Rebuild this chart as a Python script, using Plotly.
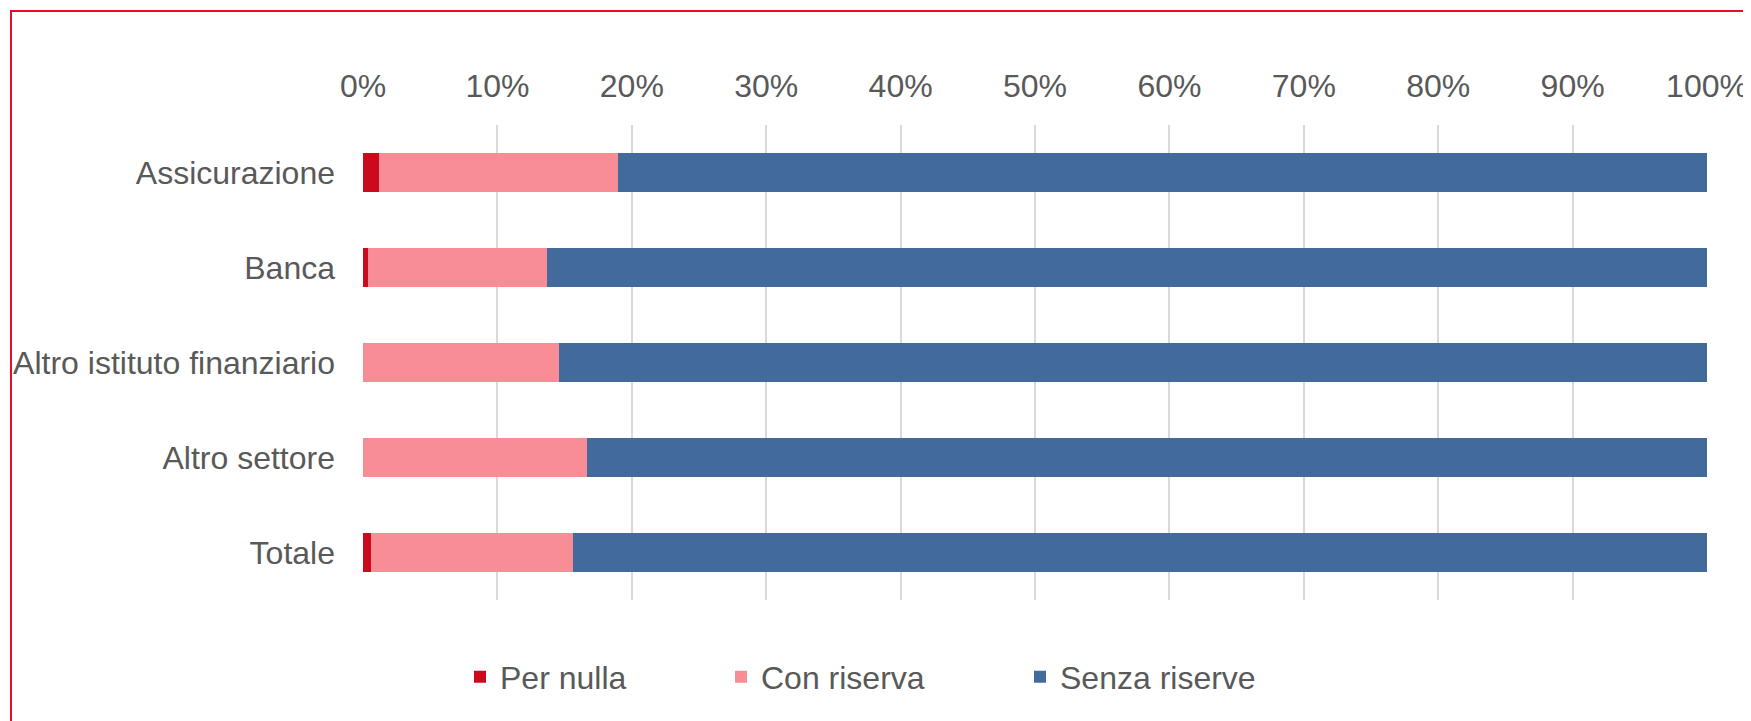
import plotly.graph_objects as go

categories = ["Assicurazione", "Banca", "Altro istituto finanziario", "Altro settore", "Totale"]
per_nulla = [1.2, 0.4, 0.0, 0.0, 0.6]
con_riserva = [17.8, 13.3, 14.6, 16.7, 15.0]
senza_riserve = [81.0, 86.3, 85.4, 83.3, 84.4]
series_names = ["Per nulla", "Con riserva", "Senza riserve"]
tick_vals = [0, 10, 20, 30, 40, 50, 60, 70, 80, 90, 100]
tick_text = ["0%", "10%", "20%", "30%", "40%", "50%", "60%", "70%", "80%", "90%", "100%"]

colors = ["#CC0A1E", "#F88D96", "#426A9A"]
W, H = 1751, 721
OFF = 8  # page body margin offset
L, T = 363 - OFF, 125 - OFF
PW, PH = 1344, 475
R, B = W - L - PW, H - T - PH
FONT = "Liberation Sans, Arial, sans-serif"
GRAY = "#595959"
FS = 32

fig = go.Figure()
for i, (name, vals) in enumerate(zip(series_names, [per_nulla, con_riserva, senza_riserve])):
    fig.add_trace(go.Bar(
        y=categories, x=vals, name=name, orientation="h",
        marker=dict(color=colors[i], line=dict(width=0)),
        width=0.41, showlegend=True,
        legend="legend" if i == 0 else f"legend{i+1}",
    ))

leg_common = dict(orientation="h", xref="container", yref="container",
                  yanchor="middle", xanchor="left",
                  font=dict(family=FONT, size=FS, color=GRAY),
                  bgcolor="rgba(0,0,0,0)", borderwidth=0, visible=True)
leg_centers = [481, 742, 1041]
y_leg = 1 - (677 - OFF) / H

fig.update_layout(
    width=W, height=H,
    margin=dict(l=L, r=R, t=T, b=B, autoexpand=False),
    barmode="stack",
    showlegend=True,
    plot_bgcolor="white", paper_bgcolor="white",
    font=dict(family=FONT, size=FS, color=GRAY),
    legend=dict(x=(leg_centers[0] - 21 - OFF) / W, y=y_leg, **leg_common),
    legend2=dict(x=(leg_centers[1] - 21 - OFF) / W, y=y_leg, **leg_common),
    legend3=dict(x=(leg_centers[2] - 21 - OFF) / W, y=y_leg, **leg_common),
    xaxis=dict(side="top", range=[0, 100], tickmode="array",
               tickvals=tick_vals, ticktext=tick_text,
               showgrid=True, gridcolor="#D9D9D9", gridwidth=1.5,
               zeroline=False, showline=False, ticks="", automargin=False,
               tickfont=dict(family=FONT, size=FS, color=GRAY),
               ticklabelstandoff=21, fixedrange=True),
    yaxis=dict(autorange="reversed", showgrid=False, showline=False, ticks="",
               automargin=False,
               tickfont=dict(family=FONT, size=FS, color=GRAY),
               ticklabelstandoff=27, fixedrange=True),
    shapes=[dict(type="rect", xref="paper", yref="paper",
                 x0=(11 - OFF - L) / PW, x1=(W + 20 - L) / PW,
                 y0=(T + PH - (H + 20)) / PH, y1=(T + PH - (11 - OFF)) / PH,
                 line=dict(color="#E0102A", width=2), fillcolor="rgba(0,0,0,0)",
                 layer="above")],
)

fig.write_html("out.html")
